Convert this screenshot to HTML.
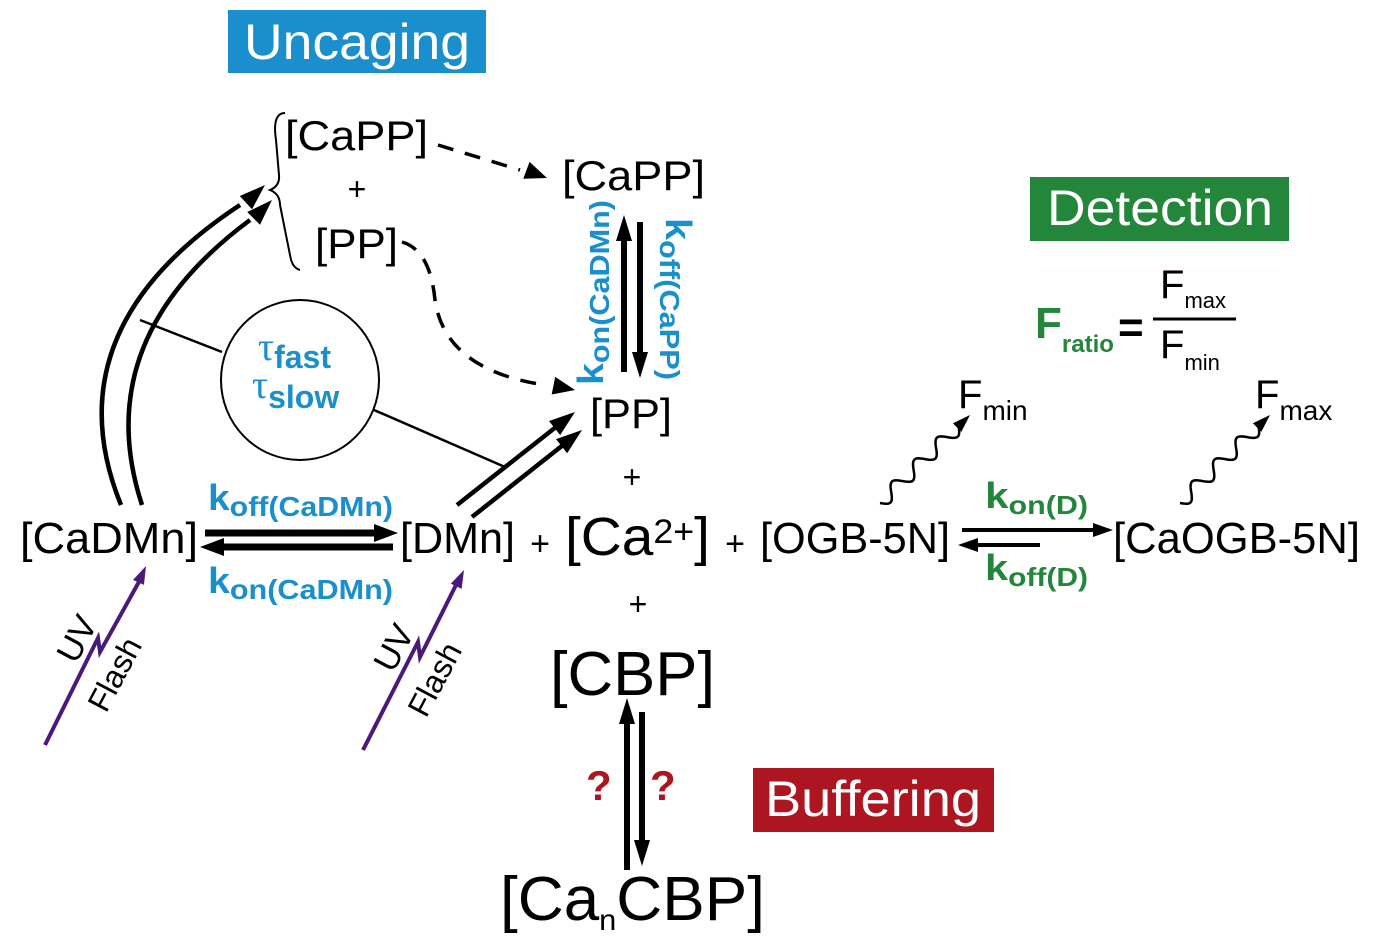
<!DOCTYPE html>
<html><head><meta charset="utf-8"><style>
body{margin:0;background:#fff}
svg{display:block;font-family:"Liberation Sans",sans-serif}
</style></head><body>
<svg id="s" width="1381" height="949" viewBox="0 0 1381 949">
<g><rect x="228" y="10" width="258" height="63" fill="#1b8fcd"/><text x="357" y="59" font-size="50" fill="#fff" text-anchor="middle" textLength="226" lengthAdjust="spacingAndGlyphs">Uncaging</text></g>
<g><rect x="1030" y="177" width="259" height="64" fill="#23863a"/><text x="1160" y="225" font-size="50" fill="#fff" text-anchor="middle" textLength="226" lengthAdjust="spacingAndGlyphs">Detection</text></g>
<g><rect x="753" y="768" width="241" height="64" fill="#ad1520"/><text x="873" y="816" font-size="50" fill="#fff" text-anchor="middle" textLength="216" lengthAdjust="spacingAndGlyphs">Buffering</text></g>

<g font-size="42" fill="#000">
<text x="285" y="150" textLength="143" lengthAdjust="spacingAndGlyphs">[CaPP]</text>
<text x="357" y="200" text-anchor="middle" font-size="32">+</text>
<text x="315" y="258" textLength="83" lengthAdjust="spacingAndGlyphs">[PP]</text>
<text x="562" y="190" textLength="143" lengthAdjust="spacingAndGlyphs">[CaPP]</text>
<text x="590" y="428" textLength="82" lengthAdjust="spacingAndGlyphs">[PP]</text>
<text x="632" y="488" text-anchor="middle" font-size="32">+</text>
<text x="20" y="553" font-size="44" textLength="178" lengthAdjust="spacingAndGlyphs">[CaDMn]</text>
<text x="400" y="553" font-size="44" textLength="115" lengthAdjust="spacingAndGlyphs">[DMn]</text>
<text x="540" y="555" text-anchor="middle" font-size="34">+</text>
<text x="565" y="555" font-size="54" textLength="145" lengthAdjust="spacingAndGlyphs">[Ca<tspan font-size="34" dy="-12">2+</tspan><tspan dy="12">]</tspan></text>
<text x="735" y="555" text-anchor="middle" font-size="34">+</text>
<text x="760" y="553" font-size="44" textLength="190" lengthAdjust="spacingAndGlyphs">[OGB-5N]</text>
<text x="1113" y="553" font-size="44" textLength="247" lengthAdjust="spacingAndGlyphs">[CaOGB-5N]</text>
<text x="638" y="615" text-anchor="middle" font-size="32">+</text>
<text x="550" y="695" font-size="62" textLength="165" lengthAdjust="spacingAndGlyphs">[CBP]</text>
<text x="500" y="920" font-size="62" textLength="265" lengthAdjust="spacingAndGlyphs">[Ca<tspan font-size="30" dy="10">n</tspan><tspan dy="-10">CBP]</tspan></text>
</g>

<path d="M285,113 Q272,113 276,140 L279,175 Q280,186 270,190 Q280,194 280,205 L290,255 Q292,268 300,270" fill="none" stroke="#000" stroke-width="2"/>

<g fill="#1b8fcd" font-weight="bold">
<text x="208" y="510" font-size="36" textLength="185" lengthAdjust="spacingAndGlyphs">k<tspan font-size="28" dy="6">off(CaDMn)</tspan></text>
<text x="208" y="593" font-size="36" textLength="185" lengthAdjust="spacingAndGlyphs">k<tspan font-size="28" dy="6">on(CaDMn)</tspan></text>
<text transform="translate(603,385) rotate(-90)" font-size="36" textLength="185" lengthAdjust="spacingAndGlyphs">k<tspan font-size="28" dy="6">on(CaDMn)</tspan></text>
<text transform="translate(666,218) rotate(90)" font-size="36" textLength="162" lengthAdjust="spacingAndGlyphs">k<tspan font-size="28" dy="6">off(CaPP)</tspan></text>
<text x="258" y="360" font-size="40" font-weight="normal" font-family="Liberation Serif,serif">τ<tspan font-family="Liberation Sans,sans-serif" font-weight="bold" font-size="32" dy="8">fast</tspan></text>
<text x="252" y="398" font-size="40" font-weight="normal" font-family="Liberation Serif,serif">τ<tspan font-family="Liberation Sans,sans-serif" font-weight="bold" font-size="32" dy="10">slow</tspan></text>
</g>

<g fill="#23863a" font-weight="bold">
<text x="985" y="508" font-size="36" textLength="103" lengthAdjust="spacingAndGlyphs">k<tspan font-size="26" dy="6">on(D)</tspan></text>
<text x="985" y="580" font-size="36" textLength="103" lengthAdjust="spacingAndGlyphs">k<tspan font-size="26" dy="6">off(D)</tspan></text>
<text x="1035" y="338" font-size="44">F<tspan font-size="24" dy="14">ratio</tspan></text>
</g>
<g>
<text x="1118" y="342" font-size="44" font-weight="bold">=</text>
<line x1="1153" y1="319" x2="1236" y2="319" stroke="#000" stroke-width="3"/>
<text x="1160" y="298" font-size="40">F<tspan font-size="22" dy="10">max</tspan></text>
<text x="1160" y="358" font-size="40">F<tspan font-size="22" dy="12">min</tspan></text>
<text x="958" y="408" font-size="40">F<tspan font-size="28" dy="12">min</tspan></text>
<text x="1255" y="408" font-size="40">F<tspan font-size="28" dy="12">max</tspan></text>
</g>

<g fill="#b0141e" font-weight="bold" font-size="42">
<text x="586" y="800">?</text>
<text x="650" y="800">?</text>
</g>

<g stroke="#000" fill="none">
<ellipse cx="300" cy="380" rx="79" ry="80" stroke-width="2"/>
<line x1="140" y1="320" x2="222" y2="352" stroke-width="2.5"/>
<line x1="374" y1="410" x2="505" y2="467" stroke-width="2.5"/>
<path d="M121,505 Q50,330 240,205" stroke-width="4.5"/>
<path d="M142,505 Q88,340 250,220" stroke-width="4.5"/>
<path d="M438,145 L520,170" stroke-width="3.5" stroke-dasharray="16,12"/>
<path d="M402,242 Q430,250 435,300 Q445,370 545,385" stroke-width="3.5" stroke-dasharray="16,12"/>
</g>
<g id="arrows"></g>

<g>
<path d="M45,745 L98,638 L100,652 L140,580" stroke="#4a1a7a" stroke-width="4" fill="none"/>
<text transform="translate(76,665) rotate(-62)" font-size="34">UV</text>
<text transform="translate(106,714) rotate(-62)" font-size="32">Flash</text>
</g>
<g>
<path d="M363,750 L418,642 L420,657 L456,585" stroke="#4a1a7a" stroke-width="4" fill="none"/>
<text transform="translate(393,674) rotate(-62)" font-size="34">UV</text>
<text transform="translate(426,719) rotate(-62)" font-size="32">Flash</text>
</g>
</svg>
<script>
var NS='http://www.w3.org/2000/svg';
var g=document.getElementById('arrows');
function arrow(x1,y1,x2,y2,w,len,hw,col,line){
  var dx=x2-x1,dy=y2-y1,L=Math.hypot(dx,dy),ux=dx/L,uy=dy/L,px=-uy,py=ux;
  var bx=x2-ux*len,by=y2-uy*len;
  if(line){
    var l=document.createElementNS(NS,'line');
    l.setAttribute('x1',x1);l.setAttribute('y1',y1);l.setAttribute('x2',bx+ux*2);l.setAttribute('y2',by+uy*2);
    l.setAttribute('stroke',col);l.setAttribute('stroke-width',w);
    
    
    g.appendChild(l);
  }
  var p=document.createElementNS(NS,'polygon');
  p.setAttribute('points',x2+','+y2+' '+(bx+px*hw)+','+(by+py*hw)+' '+(bx-px*hw)+','+(by-py*hw));
  p.setAttribute('fill',col);
  
  
  g.appendChild(p);
}
function wave(x1,y1,x2,y2){
  var dx=x2-x1,dy=y2-y1,L=Math.hypot(dx,dy),ux=dx/L,uy=dy/L,px=-uy,py=ux;
  var endL=L-16,d='';
  for(var i=0;i<=60;i++){
    var t=i/60*endL,a=7*Math.sin(t/endL*Math.PI*2*3.5);
    var x=x1+ux*t+px*a,y=y1+uy*t+py*a;
    d+=(i?'L':'M')+x.toFixed(1)+','+y.toFixed(1);
  }
  var p=document.createElementNS(NS,'path');
  p.setAttribute('d',d);p.setAttribute('fill','none');p.setAttribute('stroke','#000');p.setAttribute('stroke-width','2.5');
  
  
  g.appendChild(p);
  arrow(x1,y1,x2,y2,1,18,6,'#000',0);
}
arrow(205,533,398,533,7,24,9,'#000',1);
arrow(393,547,200,547,7,24,9,'#000',1);
arrow(624,372,624,215,6,26,8,'#000',1);
arrow(640,222,640,378,6,26,8,'#000',1);
arrow(627,870,627,698,6,26,8,'#000',1);
arrow(642,712,642,866,6,26,8,'#000',1);
arrow(962,530,1113,530,4,20,7,'#000',1);
arrow(1040,545,958,545,4,20,7,'#000',1);
arrow(457,505,575,412,4.5,26,9,'#000',1);
arrow(472,517,582,430,4.5,26,9,'#000',1);
arrow(225,222,265,185,1,26,9,'#000',0);
arrow(236,236,272,200,1,26,9,'#000',0);
arrow(515,166,547,178,1,22,9,'#000',0);
arrow(540,383,575,390,1,22,9,'#000',0);
wave(880,503,970,415);
wave(1180,503,1270,415);
arrow(135,590,146,566,1,18,6,'#4a1a7a',0);
arrow(452,595,464,570,1,18,6,'#4a1a7a',0);
</script>
</body></html>
